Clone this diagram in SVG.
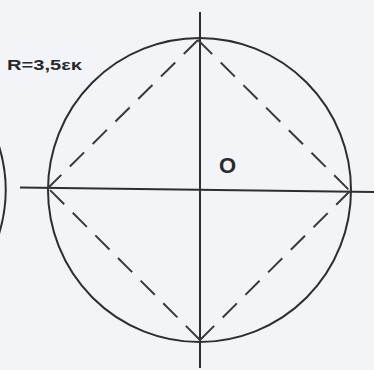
<svg xmlns="http://www.w3.org/2000/svg" width="374" height="370" viewBox="0 0 374 370">
<style>
.ln{stroke:#2e2e32;stroke-width:2;fill:none}
.ds{stroke:#3a3a3e;stroke-width:2;fill:none;stroke-dasharray:20 12}
.t{font-family:"Liberation Sans",Arial,sans-serif;fill:#2a2a2e}
</style>
<rect width="374" height="370" fill="#f3f4f7"/>
<g id="left-arc"><path class="ln" d="M0,146 A150,150 0 0 1 0,234" transform="translate(-1,0)"/></g>
<g id="circle"><ellipse class="ln" cx="199.5" cy="190" rx="151.5" ry="152"/></g>
<g id="axes">
<line class="ln" x1="200" y1="12" x2="200" y2="368"/>
<line class="ln" x1="20" y1="187.5" x2="374" y2="192"/>
</g>
<g id="square">
<line class="ds" x1="198" y1="40" x2="48" y2="188"/>
<line class="ds" x1="198" y1="40" x2="350" y2="191"/>
<line class="ds" x1="200" y1="340" x2="48" y2="188"/>
<line class="ds" x1="200" y1="340" x2="350" y2="191"/>
</g>
<g id="labels">
<text class="t" x="7" y="70" font-size="15" textLength="75" lengthAdjust="spacingAndGlyphs" font-weight="bold">R=3,5εκ</text>
<text class="t" x="219" y="173" font-size="22" font-weight="bold">O</text>
</g>
</svg>
